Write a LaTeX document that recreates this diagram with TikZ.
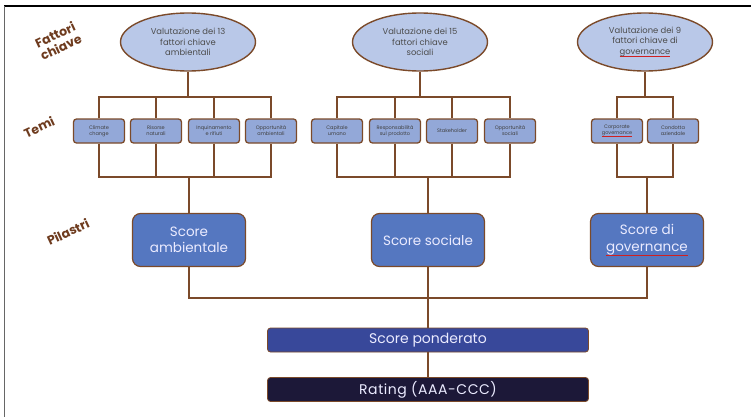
\documentclass[tikz,border=0pt]{standalone}
\usepackage{fontspec}
\setmainfont{Poppins}
\usetikzlibrary{shapes.geometric}
\definecolor{brn}{HTML}{7B4A2A}
\definecolor{lbl}{HTML}{6E3B1E}
\definecolor{ellfill}{HTML}{B9C8E8}
\definecolor{temfill}{HTML}{93A8D8}
\definecolor{scofill}{HTML}{5577C0}
\definecolor{ponfill}{HTML}{38489A}
\definecolor{ratfill}{HTML}{1C1838}
\definecolor{ulred}{HTML}{D02020}
\newcommand\redul[1]{\begingroup\setbox0\hbox{#1}\rlap{\raisebox{\dimexpr-\dp0-0.5pt\relax}{\textcolor{ulred}{\rule{\wd0}{0.6pt}}}}\box0\endgroup}
\begin{document}
\begin{tikzpicture}[x=1pt,y=-1pt,
  conn/.style={draw=brn,line width=1.6pt},
  ellbox/.style={ellipse,draw=brn,line width=1.4pt,fill=ellfill,minimum width=135pt,minimum height=58pt,inner sep=0pt,align=center,text=black!70,font=\fontsize{8.4}{10.3}\selectfont},
  tembox/.style={rectangle,rounded corners=3pt,draw=brn,line width=1.3pt,fill=temfill,minimum width=51pt,minimum height=24pt,inner sep=0pt,align=center,text=black!75,font=\fontsize{5}{6}\selectfont},
  scobox/.style={rectangle,rounded corners=8pt,draw=brn,line width=1.2pt,fill=scofill,minimum width=113pt,minimum height=53pt,inner sep=0pt,align=center,text=white!92!blue,font=\fontsize{13.5}{16.5}\selectfont},
  barbox/.style={rectangle,rounded corners=3pt,draw=brn,line width=0.8pt,minimum width=321pt,minimum height=24pt,inner sep=0pt,align=center,text=white!92!blue,font=\fontsize{14}{15}\selectfont},
  sidelbl/.style={rotate=25,align=center,text=lbl,font=\bfseries\fontsize{12.5}{13.5}\selectfont}]
\useasboundingbox (0,0) rectangle (751,417);
\fill[white] (0,0) rectangle (751,417);
\draw[black,line width=1.2pt] (4,6) -- (751,6);
\draw[black!60,line width=0.8pt] (4,6) -- (4,417);

% side labels
\node[sidelbl] (lf) at (58,41) {Fattori\\chiave};
\node[sidelbl] (lt) at (39,127) {Temi};
\node[sidelbl] (lp) at (68,232) {Pilastri};

% ellipses
\node[ellbox] (e1) at (188,42) {Valutazione dei 13\\fattori chiave\\ambientali};
\node[ellbox] (e2) at (420,42) {Valutazione dei 15\\fattori chiave\\sociali};
\node[ellbox] (e3) at (645,42) {Valutazione dei 9\\fattori chiave di\\\redul{governance}};

% themes
\node[tembox] (t1) at (99,131) {Climate\\change};
\node[tembox] (t2) at (156,131) {Risorse\\naturali};
\node[tembox] (t3) at (214,131) {Inquinamento\\e rifiuti};
\node[tembox] (t4) at (271,131) {Opportunità\\ambientali};
\node[tembox] (t5) at (337,131) {Capitale\\umano};
\node[tembox] (t6) at (395,131) {Responsabilità\\sul prodotto};
\node[tembox] (t7) at (452,131) {Stakeholder};
\node[tembox] (t8) at (510,131) {Opportunità\\sociali};
\node[tembox] (t9) at (617,131) {Corporate\\\redul{governance}};
\node[tembox] (t10) at (673,131) {Condotta\\aziendale};

% scores
\node[scobox] (s1) at (189,240) {Score\\ambientale};
\node[scobox] (s2) at (428,240) {Score sociale};
\node[scobox] (s3) at (647,240) {Score di\\\redul{governance}};

\node[barbox,fill=ponfill] (p) at (428,340) {Score ponderato};
\node[barbox,fill=ratfill] (r) at (428,389.5) {\addfontfeatures{LetterSpace=4}Rating (AAA-CCC)};

% bus coordinates
\coordinate (b1) at (188,97);
\coordinate (b2) at (420,97);
\coordinate (b3) at (645,97);
\coordinate (c1) at (189,177);
\coordinate (c2) at (428,177);
\coordinate (c3) at (647,177);
\coordinate (d) at (428,298);

% connectors
\draw[conn] (e1.south) -- (b1);
\draw[conn] (t1.north) |- (b1) -| (t4.north);
\draw[conn] (t2.north) -- (t2.north |- b1);
\draw[conn] (t3.north) -- (t3.north |- b1);
\draw[conn] (t1.south) |- (c1) -| (t4.south);
\draw[conn] (t2.south) -- (t2.south |- c1);
\draw[conn] (t3.south) -- (t3.south |- c1);
\draw[conn] (c1) -- (s1.north);

\draw[conn] (e2.south) -- (b2);
\draw[conn] (t5.north) |- (b2) -| (t8.north);
\draw[conn] (t6.north) -- (t6.north |- b2);
\draw[conn] (t7.north) -- (t7.north |- b2);
\draw[conn] (t5.south) |- (c2) -| (t8.south);
\draw[conn] (t6.south) -- (t6.south |- c2);
\draw[conn] (t7.south) -- (t7.south |- c2);
\draw[conn] (c2) -- (s2.north);

\draw[conn] (e3.south) -- (b3);
\draw[conn] (t9.north) |- (b3) -| (t10.north);
\draw[conn] (t9.south) |- (c3) -| (t10.south);
\draw[conn] (c3) -- (s3.north);

\draw[conn] (s1.south) |- (d) -| (s3.south);
\draw[conn] (s2.south) -- (p.north);
\draw[conn] (p.south) -- (r.north);
\end{tikzpicture}
\end{document}
